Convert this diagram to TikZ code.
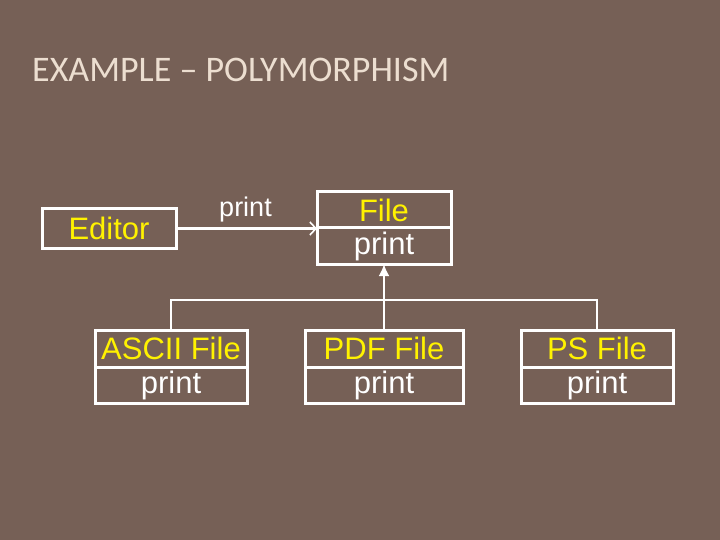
\documentclass[tikz,border=0pt]{standalone}
\usepackage{fontspec}
\setmainfont{Liberation Sans}
\newfontfamily\titlefont{Carlito}
\usetikzlibrary{positioning,arrows.meta}
\definecolor{slide}{RGB}{118,96,86}
\definecolor{titlebeige}{RGB}{236,222,208}

\tikzset{
  namebox/.style={draw=white,line width=3pt,outer sep=0pt,inner sep=0pt,
    text=yellow,font=\fontsize{31}{33}\selectfont},
  opbox/.style={namebox,text=white},
  conn/.style={white,line width=2.6pt},
}

\begin{document}
\begin{tikzpicture}[x=1pt,y=-1pt]
\fill[slide] (0,0) rectangle (720,540);
\node[anchor=west,inner sep=0pt,text=titlebeige,font=\titlefont\fontsize{36}{40}\selectfont] (title) at (32,70) {EXAMPLE – POLYMORPHISM};

% client and base class
\node[namebox,minimum width=134pt,minimum height=39pt] (editor) at (109,228.5) {Editor};
\node[namebox,minimum width=134pt,minimum height=36pt] (file) at (384,210) {File};
\node[opbox,minimum width=134pt,minimum height=36pt,below=0pt of file] (fileOp) {print};

% subclasses
\foreach \name/\txt/\x/\w in {ascii/ASCII File/171/152, pdf/PDF File/384/158, ps/PS File/597/152}
	{
	\node[namebox,minimum width=\w pt,minimum height=37pt] (\name) at (\x,348.5) {\txt};
	\node[opbox,minimum width=\w pt,minimum height=36pt,below=0pt of \name] (\name Op) {print};
	}

\coordinate (bus) at (384,300);
\draw[conn,-{Straight Barb[length=6pt,width=13pt,line width=1.6pt]}] (editor.east) -- (editor.east -| file.west)
	node[midway,above=2pt,xshift=-1pt,text=white,font=\fontsize{27}{29}\selectfont] (msg) {print};
\draw[conn] (ascii.north) |- (ps.north |- bus) -- (ps.north);
\draw[conn,-{Latex[length=12pt,width=11pt]}] (pdf.north) -- (fileOp.south);
\end{tikzpicture}
\end{document}
